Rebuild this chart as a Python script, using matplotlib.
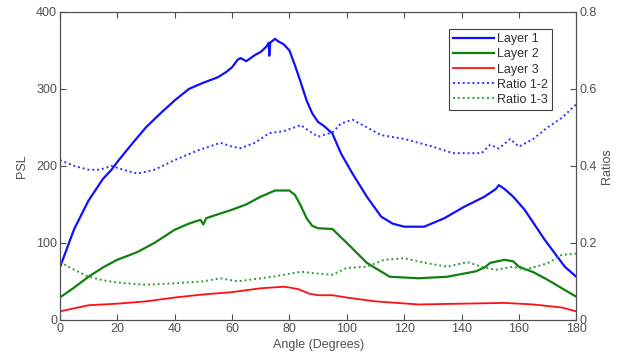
import matplotlib
matplotlib.use("Agg")
import matplotlib.pyplot as plt

# Layer 1 (PSL)
l1_angle = [0, 5, 10, 15, 18, 20, 25, 30, 35, 40, 45, 50, 55, 58, 60, 62, 63, 65, 68, 70,
            72, 72.8, 73, 73.3, 74, 75, 76, 78, 80, 82, 84, 86, 88, 90, 92, 95, 98, 102, 107,
            112, 116, 120, 127, 134, 141, 148, 152, 153, 155, 158, 162, 169, 176, 180]
l1_psl = [68, 118, 155, 183, 195, 205, 228, 250, 268, 285, 300, 308, 315, 322, 328, 338, 340,
          336, 344, 348, 355, 360, 343, 360, 362, 365, 362, 358, 350, 330, 308, 285, 268, 257, 252,
          242, 216, 190, 160, 134, 125, 121, 121, 132, 147, 160, 170, 175, 170, 160, 143, 104, 69, 56]

# Layer 2 (PSL)
l2_angle = [0, 5, 10, 15, 20, 27, 33, 40, 45, 49, 50, 51, 55, 60, 65, 70, 75, 80, 82, 84,
            86, 88, 90, 95, 100, 107, 115, 125, 135, 145, 148, 150, 155, 158, 160, 165, 170, 175, 180]
l2_psl = [29, 42, 56, 68, 78, 88, 100, 117, 125, 130, 124, 132, 137, 143, 150, 160, 168, 168,
          162, 148, 132, 122, 119, 118, 100, 74, 56, 54, 56, 63, 68, 74, 78, 76, 69, 62, 52, 41, 30]

# Layer 3 (PSL)
l3_angle = [0, 5, 10, 20, 30, 40, 50, 60, 70, 78, 80, 83, 87, 90, 95, 100, 110, 125, 140,
            155, 165, 175, 180]
l3_psl = [11, 15, 19, 21, 24, 29, 33, 36, 41, 43, 42, 40, 34, 32, 32, 29, 24, 20, 21, 22, 20, 16, 11]

# Ratio 1-2 (right axis)
r12_angle = [0, 5, 10, 14, 18, 22, 27, 33, 40, 48, 56, 60, 63, 68, 73, 78, 84, 87, 90, 95,
             98, 102, 107, 112, 120, 130, 137, 147, 150, 153, 157, 160, 165, 170, 175, 180]
r12_ratio = [0.415, 0.40, 0.39, 0.39, 0.40, 0.39, 0.38, 0.39, 0.415, 0.44, 0.46, 0.45, 0.446,
             0.46, 0.485, 0.49, 0.506, 0.49, 0.476, 0.487, 0.51, 0.52, 0.50, 0.48, 0.47, 0.45,
             0.433, 0.433, 0.455, 0.445, 0.47, 0.45, 0.47, 0.50, 0.525, 0.56]

# Ratio 1-3 (right axis)
r13_angle = [0, 5, 10, 15, 20, 30, 40, 50, 56, 62, 70, 75, 84, 90, 95, 100, 107, 113, 120,
             128, 135, 142, 147, 152, 158, 162, 170, 175, 180]
r13_ratio = [0.15, 0.13, 0.112, 0.103, 0.097, 0.091, 0.095, 0.10, 0.108, 0.10, 0.108, 0.113,
             0.125, 0.12, 0.117, 0.135, 0.138, 0.156, 0.16, 0.147, 0.138, 0.15, 0.138, 0.13,
             0.138, 0.13, 0.147, 0.169, 0.172]

grey = "#505050"
plt.rcParams["font.family"] = ["Liberation Sans", "DejaVu Sans"]
plt.rcParams["font.size"] = 9

fig = plt.figure(figsize=(6.17, 3.61), dpi=100)
ax = fig.add_axes([0.097, 0.114, 0.837, 0.853])
ax2 = ax.twinx()

h1, = ax.plot(l1_angle, l1_psl, color="#1010ff", lw=1.6, label="Layer 1")
h2, = ax.plot(l2_angle, l2_psl, color="#108010", lw=1.6, label="Layer 2")
h3, = ax.plot(l3_angle, l3_psl, color="#ff1010", lw=1.3, label="Layer 3")
h4, = ax2.plot(r12_angle, r12_ratio, color="#3030ff", lw=1.4, ls=(0, (1, 1.5)), label="Ratio 1-2")
h5, = ax2.plot(r13_angle, r13_ratio, color="#30a030", lw=1.4, ls=(0, (1, 1.5)), label="Ratio 1-3")

ax.set_xlim(0, 180)
ax.set_ylim(0, 400)
ax2.set_ylim(0, 0.8)
ax.set_xticks(range(0, 181, 20))
ax.set_yticks(range(0, 401, 100))
ax2.set_yticks([0, 0.2, 0.4, 0.6, 0.8])
ax2.set_yticklabels(["0", "0.2", "0.4", "0.6", "0.8"])

for a in (ax, ax2):
    for s in a.spines.values():
        s.set_color(grey)
        s.set_linewidth(0.8)
    a.tick_params(direction="in", colors=grey, length=4, width=0.8, labelcolor=grey, pad=2)
ax.tick_params(top=True)

ax.set_xlabel("Angle (Degrees)", color=grey, labelpad=3)
ax.set_ylabel("PSL", color=grey, labelpad=6)
ax2.set_ylabel("Ratios", color=grey, labelpad=3)

leg = ax.legend(handles=[h1, h2, h3, h4, h5], loc="upper right", bbox_to_anchor=(0.965, 0.965),
                fancybox=False, framealpha=1, edgecolor="#404040", handlelength=3.3,
                handletextpad=0.2, labelspacing=0.25, borderpad=0.35, fontsize=9)
leg.get_frame().set_linewidth(0.8)
for t in leg.get_texts():
    t.set_color("#303030")

fig.savefig("out.png", dpi=100)
